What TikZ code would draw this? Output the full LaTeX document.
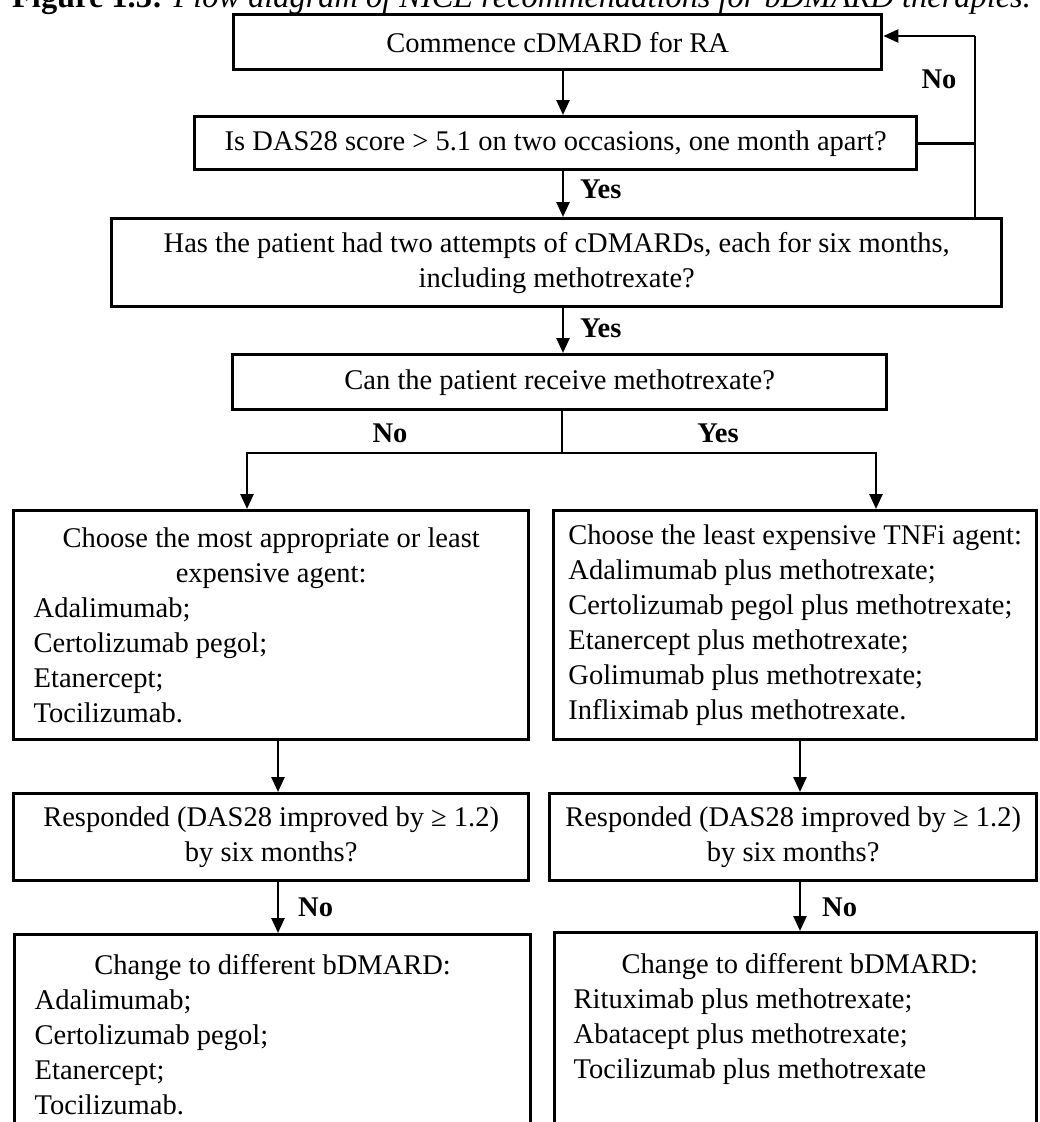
\documentclass[tikz,border=0pt]{standalone}
\usepackage{fontspec}
\setmainfont{Liberation Serif}
\usetikzlibrary{arrows.meta}
\newcommand\flowtext{\fontsize{28.5}{35}\selectfont}
\newcommand\flowlabel{\fontsize{28.5}{34}\selectfont\bfseries}
% a line of fixed width, its text centred or flush left
\newcommand\flowmid[2]{\makebox[#1][c]{#2}}
\newcommand\flowflush[2]{\makebox[#1][l]{#2}}
\begin{document}
\begin{tikzpicture}[x=1pt,y=-1pt,
  box/.style={draw=black, line width=3.4pt, rectangle, inner sep=0pt,
    anchor=north west, font=\flowtext, align=center},
  link/.style={draw=black, line width=2.6pt},
  arr/.style={link, -{Triangle[length=15pt,width=13pt]}},
  lab/.style={font=\flowlabel, inner sep=0pt},
]
\useasboundingbox (0,0) rectangle (1040,1122);
\clip (0,0) rectangle (1040,1122);

% caption, partly above the top edge
\node[anchor=base west, inner sep=0pt, font=\fontsize{32.4}{38}\selectfont] (caption) at (12,7)
  {\textbf{Figure 1.3:} \textit{Flow diagram of NICE recommendations for bDMARD therapies.}};

% main column
\node[box, minimum width=648pt, minimum height=55pt] (start) at (232,13) {Commence cDMARD for RA};
\node[box, minimum width=722pt, minimum height=53pt] (das) at (193,115)
  {Is DAS28 score > 5.1 on two occasions, one month apart?};
\node[box, minimum width=890pt, minimum height=88pt] (attempts) at (110,217)
  {Has the patient had two attempts of cDMARDs, each for six months,\\including methotrexate?};
\node[box, minimum width=654pt, minimum height=55pt] (mtx) at (231,353)
  {Can the patient receive methotrexate?};

% left branch (no methotrexate)
\node[box, minimum width=515pt, minimum height=229pt, align=left] (agentL) at (12,509)
  {\flowmid{475pt}{Choose the most appropriate or least}\\\flowmid{475pt}{expensive agent:}\\
   Adalimumab;\\Certolizumab pegol;\\Etanercept;\\Tocilizumab.};
\node[box, minimum width=515pt, minimum height=87pt] (respL) at (12,792)
  {Responded (DAS28 improved by ≥ 1.2)\\by six months?};
\node[box, minimum width=516pt, minimum height=200pt, align=left] (changeL) at (13,933)
  {\flowmid{476pt}{Change to different bDMARD:}\\Adalimumab;\\Certolizumab pegol;\\Etanercept;\\Tocilizumab.};

% right branch (with methotrexate)
\node[box, minimum width=483pt, minimum height=229pt, align=left] (agentR) at (552,509)
  {Choose the least expensive TNFi agent:\\Adalimumab plus methotrexate;\\Certolizumab pegol plus methotrexate;\\Etanercept plus methotrexate;\\Golimumab plus methotrexate;\\Infliximab plus methotrexate.};
\node[box, minimum width=487pt, minimum height=87pt] (respR) at (548,792)
  {Responded (DAS28 improved by ≥ 1.2)\\by six months?};
\node[box, minimum width=482pt, minimum height=212pt, align=left] (changeR) at (553,931)
  {\flowflush{444pt}{\hspace{48pt}Change to different bDMARD:}\\Rituximab plus methotrexate;\\Abatacept plus methotrexate;\\Tocilizumab plus methotrexate\\\strut};

% reference points for the connectors
\coordinate (cx) at (563,0);
\coordinate (split) at (562,453);
\coordinate (leftend) at (247,453);
\coordinate (rightend) at (876,453);
\coordinate (lx) at (278,0);
\coordinate (rx) at (800,0);
\coordinate (fbx) at (975,0);
\coordinate (fbtop) at (975,36);

% connectors down the main column
\draw[arr] (start.south -| cx) -- (das.north -| cx);
\draw[arr] (das.south -| cx) -- (attempts.north -| cx);
\draw[arr] (attempts.south -| cx) -- (mtx.north -| cx);

% loop back to the start
\draw[link] (das.east) -- (das.east -| fbx);
\draw[link] (attempts.north -| fbx) -- (fbtop);
\draw[arr] (fbtop) -- (start.east |- fbtop);

% split into the two branches
\draw[link] (mtx.south -| split) -- (split);
\draw[arr, line join=miter] (split) -- (leftend) -- (agentL.north -| leftend);
\draw[arr, line join=miter] (split) -- (rightend) -- (agentR.north -| rightend);

% down each branch
\draw[arr] (agentL.south -| lx) -- (respL.north -| lx);
\draw[arr] (respL.south -| lx) -- (changeL.north -| lx);
\draw[arr] (agentR.south -| rx) -- (respR.north -| rx);
\draw[arr] (respR.south -| rx) -- (changeR.north -| rx);

% decision labels
\node[lab] (noLoop) at (939,79) {No};
\node[lab, anchor=west] (yesDas) at (580,189) {Yes};
\node[lab, anchor=west] (yesAttempts) at (580,328) {Yes};
\node[lab] (noMtx) at (390,433) {No};
\node[lab] (yesMtx) at (718,433) {Yes};
\node[lab, anchor=west] (noRespL) at (298,907) {No};
\node[lab, anchor=west] (noRespR) at (822,907) {No};
\end{tikzpicture}
\end{document}
